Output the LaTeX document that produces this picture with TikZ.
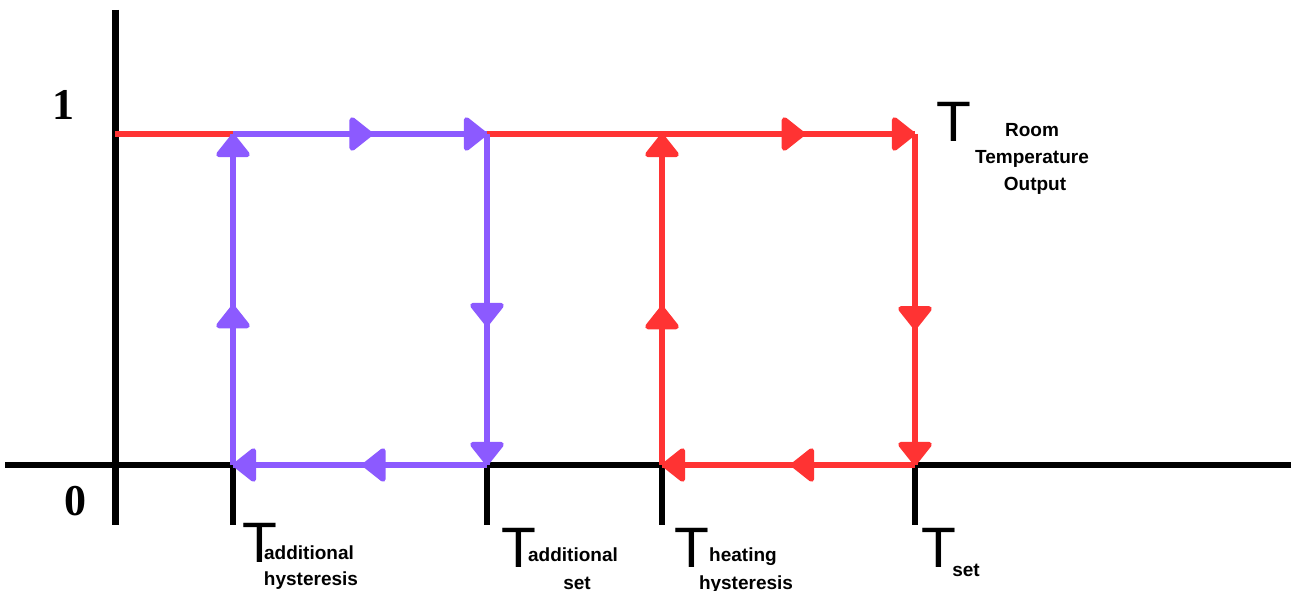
\documentclass[tikz,border=0pt]{standalone}
\usepackage{fontspec}
\newfontfamily\lsans{Liberation Sans}
\newfontfamily\lserif{Liberation Serif}
\usetikzlibrary{arrows.meta,decorations.markings}
\definecolor{hred}{RGB}{255,51,51}
\definecolor{hpurp}{RGB}{140,90,255}
\tikzset{
 tri/.tip={Triangle[length=25pt,width=38pt,round]},
 axis/.style={line width=7pt, black},
 tickline/.style={line width=6pt, black},
 loopline/.style={line width=5.5pt},
 side/.style={loopline, postaction={decorate}, decoration={markings, mark=at position #1 with {\arrow{tri}}, mark=at position 1 with {\arrow{tri}}}},
 bigT/.style={font=\lsans\fontsize{57}{57}\selectfont, inner sep=0, anchor=base west},
 sub/.style={font=\lsans\bfseries\fontsize{19}{19}\selectfont, inner sep=0, anchor=base},
 num/.style={font=\lserif\bfseries\fontsize{44}{44}\selectfont, inner sep=0, anchor=base},
}
\begin{document}
\begin{tikzpicture}[x=1pt,y=-1pt]
\useasboundingbox (0,0) rectangle (1291,591);
% coordinates
\coordinate (ytop) at (115,10);
\coordinate (ybot) at (115,525);
\coordinate (xl) at (5,465);
\coordinate (xr) at (1291,465);
\coordinate (one) at (115,134);
\foreach \n/\x in {ah/233, as/487, hh/662, st/915}{
  \coordinate (\n0) at (\x,465);
  \coordinate (\n1) at (\x,134);
  \coordinate (\n t) at (\x,525);
}
% axes
\draw[axis] (ytop) -- (ybot);
\draw[axis, line width=6pt] (xl) -- (xr);
\foreach \n in {ah,as,hh,st}{\draw[tickline] (\n0) -- (\n t);}
% plain red output line
\draw[loopline, hred] (one) -- (ah1);
\draw[loopline, hred] (as1) -- (hh1);
% purple loop
\draw[side=0.483, hpurp] (ah0) -- (ah1);
\draw[side=0.55, hpurp] (ah1) -- (as1);
\draw[side=0.58, hpurp] (as1) -- (as0);
\draw[side=0.49, hpurp] (as0) -- (ah0);
% red loop
\draw[side=0.48, hred] (hh0) -- (hh1);
\draw[side=0.565, hred] (hh1) -- (st1);
\draw[side=0.59, hred] (st1) -- (st0);
\draw[side=0.49, hred] (st0) -- (hh0);
% axis numbers
\node[num] (n1) at (63,120) {1};
\node[num] (n0) at (75,515) {0};
% labels
\node[bigT] (T1) at (242,562) {T};
\node[sub] (T1a) at (309,559) {additional};
\node[sub] (T1b) at (311,585) {hysteresis};
\node[bigT] (T2) at (501,567) {T};
\node[sub] (T2a) at (573,561) {additional};
\node[sub] (T2b) at (577,589) {set};
\node[bigT] (T3) at (674,567) {T};
\node[sub] (T3a) at (743,561) {heating};
\node[sub] (T3b) at (746,589) {hysteresis};
\node[bigT] (T4) at (921,567) {T};
\node[sub] (T4a) at (966,576) {set};
\node[bigT] (T5) at (936,142) {T};
\node[sub] (T5a) at (1032,137) {Room};
\node[sub] (T5b) at (1032,164) {Temperature};
\node[sub] (T5c) at (1035,190) {Output};
\end{tikzpicture}
\end{document}
